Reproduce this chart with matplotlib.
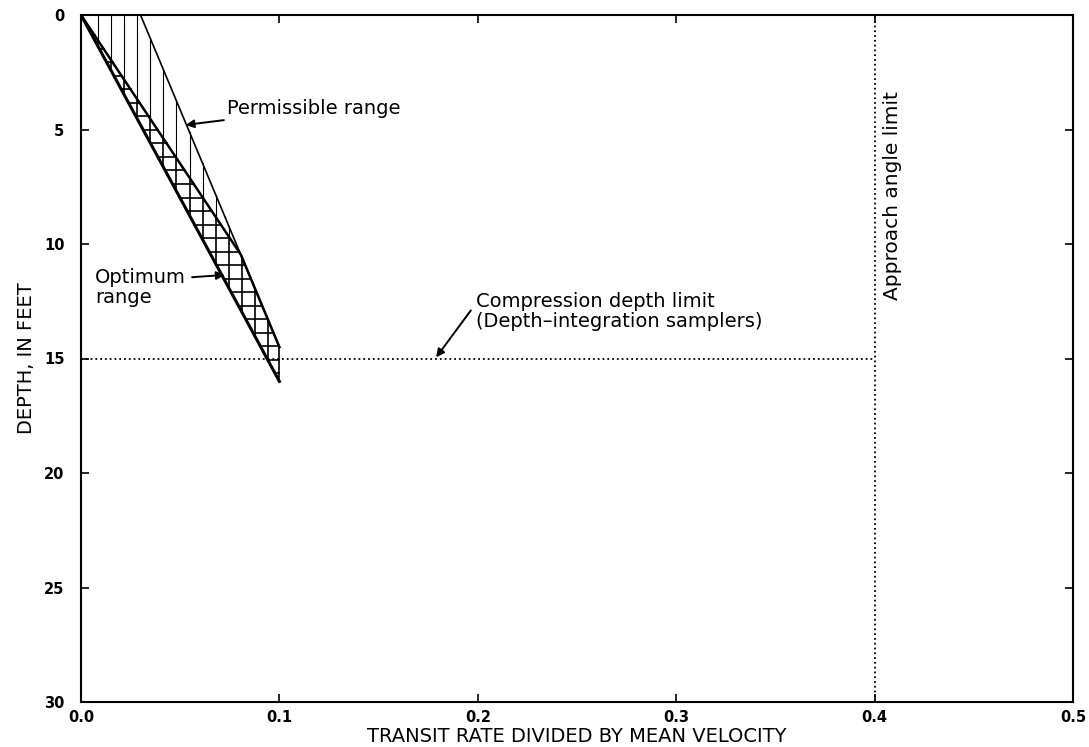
import numpy as np
import matplotlib
matplotlib.use("Agg")
import matplotlib.pyplot as plt

# chart values
x_ticks = [0.0, 0.1, 0.2, 0.3, 0.4, 0.5]
y_ticks = [0, 5, 10, 15, 20, 25, 30]

# optimum range: lower edge and upper edge (x = transit rate / mean velocity, depth in ft)
opt_lower_x = [0.0, 0.1]
opt_lower_depth = [0.0, 16.0]
opt_upper_x = [0.0, 0.0806, 0.1]
opt_upper_depth = [0.0, 10.47, 14.5]

# permissible range right edge
perm_x = [0.03, 0.1]
perm_depth = [0.0, 14.5]

compression_depth = 15
compression_x = [0.0, 0.4]
approach_x = 0.4

HATCH_DX = 0.0066
HATCH_DY = 0.59

TEXT_FONT = ["DejaVu Sans"]
FS = 14


def main():
    fig = plt.figure(figsize=(10.89, 7.47), dpi=100)
    ax = fig.add_axes([81 / 1089, 1 - 702 / 747, (1073 - 81) / 1089, (702 - 15) / 747])

    # vertical hatching (permissible) and crosshatching (optimum)
    for x in np.arange(0.0085, 0.1, HATCH_DX):
        top = np.interp(x, perm_x, perm_depth)
        mid = np.interp(x, opt_upper_x, opt_upper_depth)
        bot = np.interp(x, opt_lower_x, opt_lower_depth)
        if mid > top:
            ax.plot([x, x], [top, mid], color="black", lw=0.8)
        ax.plot([x, x], [max(top, mid), bot], color="black", lw=1.2)
    for d in np.arange(0.3, 16.0, HATCH_DY):
        left = np.interp(d, opt_lower_depth, opt_lower_x)
        right = np.interp(d, opt_upper_depth, opt_upper_x)
        ax.plot([left, right], [d, d], color="black", lw=1.2)

    # boundaries
    ax.plot(opt_lower_x, opt_lower_depth, color="black", lw=2.2)
    ax.plot(opt_upper_x, opt_upper_depth, color="black", lw=1.8)
    ax.plot(perm_x, perm_depth, color="black", lw=1.2)
    ax.plot([perm_x[-1], opt_lower_x[-1]], [perm_depth[-1], opt_lower_depth[-1]],
            color="black", lw=1.2)

    # limits
    ax.plot(compression_x, [compression_depth, compression_depth],
            color="black", lw=1.3, ls=":")
    ax.axvline(approach_x, color="black", lw=1.3, ls=":")

    arrow = dict(arrowstyle="-|>", color="black", lw=1.4, mutation_scale=12,
                 shrinkA=0, shrinkB=0)
    ax.annotate("Permissible range", xy=(0.0528, 4.8), xytext=(0.0734, 4.1),
                fontsize=FS, family=TEXT_FONT, va="center", ha="left",
                arrowprops=arrow)
    ax.annotate("", xy=(0.0724, 11.35), xytext=(0.056, 11.45), arrowprops=arrow)
    ax.text(0.007, 11.9, "Optimum\nrange", fontsize=FS, family=TEXT_FONT,
            va="center", ha="left", linespacing=1.1)
    ax.annotate("", xy=(0.179, 14.95), xytext=(0.1965, 12.9), arrowprops=arrow)
    ax.text(0.199, 12.95, "Compression depth limit\n(Depth\u2013integration samplers)",
            fontsize=FS, family=TEXT_FONT, va="center", ha="left", linespacing=1.05)
    ax.text(0.409, 7.9, "Approach angle limit", rotation=90, fontsize=FS + 0.5,
            family=TEXT_FONT, va="center", ha="center")

    ax.set_xlim(0, 0.5)
    ax.set_ylim(30, 0)
    ax.set_xticks(x_ticks)
    ax.set_yticks(y_ticks)
    ax.set_xticklabels([f"{v:.1f}" for v in x_ticks], fontweight="bold", fontsize=10.5)
    ax.set_yticklabels([str(v) for v in y_ticks], fontweight="bold", fontsize=10.5)
    ax.tick_params(direction="in", top=True, right=True, length=6, width=1.2)
    ax.tick_params(axis="y", pad=12)
    ax.tick_params(axis="x", pad=6)
    for s in ax.spines.values():
        s.set_linewidth(1.5)

    ax.set_xlabel("TRANSIT RATE DIVIDED BY MEAN VELOCITY", fontsize=14,
                  family=TEXT_FONT, labelpad=1)
    ax.set_ylabel("DEPTH, IN FEET", fontsize=14, family=TEXT_FONT, labelpad=6)

    fig.savefig("out.png", dpi=100)


if __name__ == "__main__":
    main()
